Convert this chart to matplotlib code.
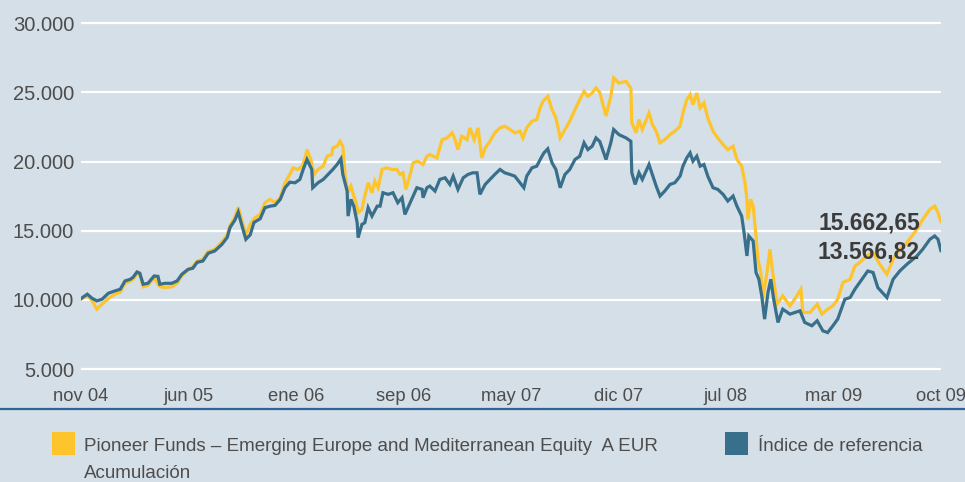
import matplotlib.pyplot as plt
import numpy as np
from matplotlib.lines import Line2D
from matplotlib.patches import Rectangle

plt.rcParams.update({
    "font.family": ["Liberation Sans", "DejaVu Sans"],
})

BG = "#d5dfe7"
C_FUND = "#fdc42c"
C_INDEX = "#386f8b"
C_TEXT = "#4d4d4d"

# days since the start of the period (nov 04 -> oct 09, 1800 days)
fund_days = [0, 13, 23, 33, 44, 57, 71, 82, 92, 103, 109, 117, 123, 130, 140, 153, 165, 176, 190, 201,
             211, 224, 234, 243, 255, 266, 280, 295, 306, 312, 322, 329, 337, 345, 354, 364, 375, 385, 396, 406,
             417, 427, 437, 444, 454, 463, 469, 473, 481, 488, 496, 507, 515, 525, 527, 536, 542, 548, 553, 559,
             565, 571, 576, 580, 588, 594, 601, 609, 615, 622, 630, 640, 651, 661, 668, 674, 680, 689, 695, 705,
             716, 724, 730, 745, 756, 766, 777, 783, 789, 797, 808, 814, 823, 831, 839, 846, 856, 866, 877, 887,
             898, 908, 919, 925, 933, 944, 954, 961, 967, 977, 986, 994, 998, 1003, 1013, 1023, 1034, 1044, 1053, 1061,
             1070, 1078, 1086, 1099, 1109, 1115, 1126, 1141, 1151, 1153, 1162, 1168, 1175, 1189, 1196, 1204, 1212, 1222, 1233, 1243,
             1254, 1260, 1268, 1275, 1281, 1289, 1296, 1304, 1312, 1323, 1333, 1344, 1354, 1365, 1373, 1383, 1390, 1394, 1396, 1402,
             1407, 1413, 1417, 1423, 1427, 1436, 1442, 1448, 1457, 1469, 1484, 1494, 1507, 1511, 1526, 1541, 1551, 1563, 1574, 1584,
             1595, 1610, 1620, 1630, 1645, 1658, 1672, 1687, 1700, 1714, 1729, 1750, 1762, 1777, 1787, 1794, 1800]
fund_vals = [10050, 10300, 9950, 9330, 9700, 10100, 10400, 10550, 11200, 11350, 11500, 11900, 11800, 10950, 11050, 11600, 10950, 10900, 10950, 11200,
             11750, 12150, 12400, 12800, 12950, 13500, 13650, 14200, 14700, 15400, 15950, 16700, 15700, 14700, 15460, 15940, 16180, 17030, 17270, 17030,
             17390, 18470, 19070, 19550, 19430, 19670, 20270, 20870, 20150, 19070, 19430, 19670, 20390, 20510, 20990, 21110, 21470, 21100, 18950, 17750,
             18230, 17510, 17030, 16310, 16540, 17510, 18470, 17750, 18590, 18110, 19430, 19550, 19430, 19430, 19070, 19190, 17990, 19070, 19910, 20030,
             19790, 20390, 20510, 20270, 21590, 21710, 22080, 21590, 20870, 21830, 21590, 22440, 21590, 22440, 20270, 20990, 21470, 22080, 22440, 22560,
             22320, 22080, 22200, 21710, 22440, 22920, 23040, 23880, 24360, 24720, 23760, 23160, 22560, 21710, 22320, 22920, 23760, 24480, 25080, 24720,
             24960, 25320, 25000, 23300, 24720, 26050, 25680, 25800, 25320, 22800, 22080, 23040, 22320, 23520, 22680, 22200, 21360, 21590, 21950, 22200,
             22560, 23520, 24480, 24840, 24120, 24960, 23880, 24240, 23160, 22200, 21710, 21230, 20870, 21110, 20150, 19670, 18470, 17270, 15820, 17270,
             16780, 14620, 12940, 11980, 10050, 11980, 13660, 11980, 9700, 10290, 9570, 10050, 10770, 9090, 9090, 9690, 8970, 9330, 9570, 10050,
             11260, 11490, 12450, 12700, 13180, 13420, 12580, 11850, 12940, 13660, 14140, 15100, 15820, 16540, 16780, 16300, 15662.65]

index_days = [0, 13, 23, 33, 44, 57, 71, 82, 92, 103, 109, 117, 123, 130, 140, 153, 161, 165, 176, 190,
              201, 211, 224, 234, 243, 255, 266, 280, 295, 306, 312, 322, 329, 337, 345, 354, 362, 375, 385, 396,
              406, 417, 427, 437, 448, 458, 465, 473, 483, 485, 496, 507, 517, 527, 536, 544, 548, 557, 559, 565,
              571, 578, 580, 588, 594, 601, 609, 620, 626, 632, 643, 653, 663, 672, 678, 689, 695, 703, 714, 716,
              724, 730, 741, 751, 762, 772, 779, 789, 800, 810, 820, 829, 835, 846, 856, 866, 877, 887, 898, 908,
              919, 927, 933, 944, 954, 963, 969, 977, 986, 994, 1003, 1013, 1023, 1034, 1044, 1053, 1061, 1070, 1078, 1086,
              1099, 1109, 1115, 1126, 1141, 1151, 1153, 1160, 1168, 1175, 1189, 1196, 1204, 1212, 1222, 1233, 1243, 1254, 1260, 1268,
              1275, 1281, 1289, 1296, 1304, 1312, 1323, 1333, 1344, 1354, 1365, 1373, 1383, 1388, 1394, 1398, 1407, 1413, 1419, 1425,
              1431, 1438, 1444, 1450, 1459, 1469, 1484, 1505, 1515, 1530, 1541, 1553, 1563, 1574, 1584, 1599, 1610, 1620, 1630, 1647,
              1658, 1668, 1687, 1700, 1714, 1729, 1750, 1762, 1777, 1787, 1794, 1800]
index_vals = [10100, 10410, 10120, 9930, 10050, 10480, 10650, 10770, 11370, 11490, 11640, 12020, 11930, 11130, 11200, 11730, 11700, 11130, 11200, 11200,
              11370, 11850, 12210, 12290, 12720, 12810, 13370, 13540, 14020, 14520, 15240, 15770, 16350, 15340, 14380, 14700, 15600, 15870, 16670, 16780,
              16830, 17270, 18110, 18510, 18470, 18710, 19430, 20150, 19430, 18110, 18470, 18710, 19070, 19430, 19790, 20200, 19070, 17870, 16060, 17270,
              16780, 15580, 14500, 15460, 15580, 16670, 16060, 16780, 16780, 17750, 17630, 17750, 17030, 17390, 16180, 17030, 17510, 18110, 17990, 17390,
              18110, 18230, 17870, 18710, 18830, 18350, 18950, 17990, 18830, 19070, 19190, 19190, 17630, 18350, 18710, 19070, 19430, 19190, 19070, 18950,
              18470, 18110, 18950, 19550, 19670, 20270, 20630, 20920, 19910, 19430, 18110, 19070, 19430, 20150, 20390, 21360, 20870, 21110, 21710, 21450,
              20150, 21360, 22320, 21950, 21710, 21470, 19190, 18350, 19190, 18710, 19790, 19070, 18230, 17510, 17870, 18350, 18470, 18950, 19670, 20270,
              20630, 20030, 20390, 19670, 19790, 18950, 18110, 17990, 17630, 17150, 17510, 16780, 16060, 14860, 13180, 14620, 14260, 11980, 11490, 10290,
              8610, 10530, 11490, 10050, 8370, 9330, 8970, 9210, 8370, 8130, 8490, 7760, 7640, 8130, 8610, 10050, 10170, 10770, 11260, 12090,
              11980, 10890, 10170, 11490, 12090, 12580, 13180, 13660, 14380, 14620, 14380, 13566.82]

tick_days = np.linspace(0, 1800, 9)
tick_labels = ["nov 04", "jun 05", "ene 06", "sep 06", "may 07", "dic 07", "jul 08", "mar 09", "oct 09"]
y_ticks = [5000, 10000, 15000, 20000, 25000, 30000]

fund_name = "Pioneer Funds \u2013 Emerging Europe and Mediterranean Equity  A EUR\nAcumulaci\u00f3n"
index_name = "\u00cdndice de referencia"


def fmt(v, dec=0):
    s = f"{v:,.{dec}f}"
    return s.replace(",", "X").replace(".", ",").replace("X", ".")


fig = plt.figure(figsize=(9.65, 4.82), dpi=100, facecolor=BG)
ax = fig.add_axes([0.084, 0.220, 0.891, 0.746], facecolor=BG)

for y in y_ticks:
    ax.axhline(y, color="white", lw=1.6, zorder=1)

ax.plot(fund_days, fund_vals, color=C_FUND, lw=2.3, zorder=3, solid_joinstyle="miter")
ax.plot(index_days, index_vals, color=C_INDEX, lw=2.3, zorder=4, solid_joinstyle="miter")

ax.set_xlim(0, 1800)
ax.set_ylim(4500, 30500)
ax.set_yticks(y_ticks)
ax.set_yticklabels([fmt(v) for v in y_ticks])
ax.set_xticks(tick_days)
ax.set_xticklabels(tick_labels)
ax.tick_params(length=0, colors=C_TEXT, labelcolor=C_TEXT)
ax.tick_params(axis="y", pad=5, labelsize=14.5)
ax.tick_params(axis="x", pad=9, labelsize=13.2)
for s in ax.spines.values():
    s.set_visible(False)

# end-of-period values
for v, d in [(fund_vals[-1], fund_days[-1]), (index_vals[-1], index_days[-1])]:
    ax.annotate(fmt(v, 2), xy=(d, v), xytext=(-21, -1), textcoords="offset pixels",
                ha="right", va="center", fontsize=16.5, fontweight="bold",
                color="#3b3b3b", zorder=5)

# separator under the axis
fig.add_artist(Line2D([0, 1], [1 - 409 / 482] * 2, color="#2f6597", lw=1.6,
                      transform=fig.transFigure))

# legend
fig.add_artist(Rectangle((52 / 965, 1 - 455 / 482), 23 / 965, 23 / 482,
                         transform=fig.transFigure, color=C_FUND, lw=0))
fig.text(84 / 965, 1 - 438 / 482, fund_name, ha="left", va="top", fontsize=13.5,
         color=C_TEXT, linespacing=1.8)
fig.add_artist(Rectangle((725 / 965, 1 - 455 / 482), 23 / 965, 23 / 482,
                         transform=fig.transFigure, color=C_INDEX, lw=0))
fig.text(758 / 965, 1 - 438 / 482, index_name, ha="left", va="top", fontsize=13.5,
         color=C_TEXT)

fig.savefig("out.png", dpi=100, facecolor=BG)
